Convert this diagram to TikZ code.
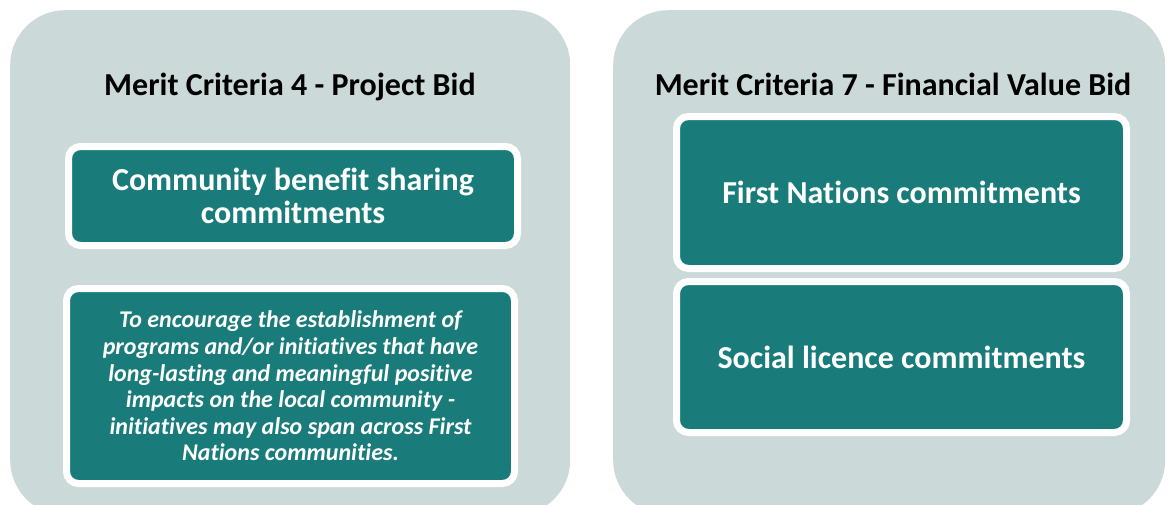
\documentclass[tikz,border=0pt]{standalone}
\usepackage{fontspec}
\setmainfont{Carlito}[Ligatures={NoCommon}]
\usepackage{xcolor}
\usepackage{tikz}
\usetikzlibrary{shadows}
\definecolor{panelgray}{HTML}{CCD9D9}
\definecolor{tealbox}{HTML}{1A7B7B}
\tikzset{panel/.style={fill=panelgray,rounded corners=55pt,anchor=north west,inner sep=0pt},
    heading/.style={font=\bfseries\fontsize{32}{38}\selectfont,text=black,
        text height=22pt,text depth=7pt},
    tealcard/.style={fill=tealbox,draw=white,line width=7pt,rounded corners=12pt,
        text=white,align=flush center,inner sep=0pt,
        drop shadow={shadow xshift=1.5pt,shadow yshift=-3pt,opacity=0.3,fill=black!60}},
    bigtext/.style={font=\bfseries\fontsize{32}{33}\selectfont},
    smalltext/.style={font=\bfseries\itshape\fontsize{24}{26.6}\selectfont}}

\begin{document}
\begin{tikzpicture}[x=1pt,y=-1pt]
    \useasboundingbox (0,0) rectangle (1167,504);
    \begin{scope}
        \clip (0,0) rectangle (1167,504);
        \node[panel,minimum width=560pt,minimum height=505pt] (left) at (10,10) {};
        \node[panel,minimum width=552pt,minimum height=505pt] (right) at (613,10) {};
    \end{scope}
    \node[heading] (mc4) at (290,88) {Merit Criteria 4 - Project Bid};
    \node[heading] (mc7) at (893,88) {Merit Criteria 7 - Financial Value Bid};
    \node[tealcard,bigtext,minimum width=449pt,minimum height=99pt,text width=420pt]
        (benefit) at (293,196) {Community benefit sharing\\commitments};
    \node[tealcard,smalltext,minimum width=448pt,minimum height=195pt,text width=420pt]
        (purpose) at (290.5,386) {To encourage the establishment of\\programs and/or initiatives that have\\long-lasting and meaningful positive\\impacts on the local community -\\initiatives may also span across First\\Nations communities.};
    \node[tealcard,bigtext,minimum width=450pt,minimum height=152pt,text width=420pt]
        (firstnations) at (901.5,192.5) {First Nations commitments};
    \node[tealcard,bigtext,minimum width=450pt,minimum height=151pt,text width=420pt]
        (licence) at (901.5,357) {Social licence commitments};
\end{tikzpicture}
\end{document}
